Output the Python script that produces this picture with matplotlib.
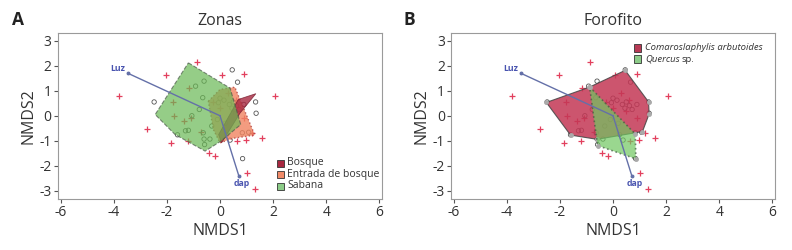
import matplotlib
matplotlib.use("Agg")
import matplotlib.pyplot as plt
from matplotlib.patches import Rectangle

plt.rcParams['font.family'] = ['Open Sans', 'DejaVu Sans']

# ---- data ----
sites_x = [-2.48, -0.92, 0.46, 0.66, 1.34, 1.36, 1.08, 0.84, 0.85, 0.38, -0.60, -0.58, -1.60,
           -0.60, -0.65, -0.78, -1.06, -1.19, -0.63, -0.38, -0.31, -0.06, 0.15, 0.35, 0.50,
           0.62, 0.45, 0.72, 0.90, -0.10, 0.20, -1.30, 0.00, 0.25]
sites_y = [0.55, 1.18, 1.83, 1.34, 0.55, 0.10, -0.66, -0.68, -1.71, -0.97, -0.93, -1.15, -0.76,
           1.38, 0.72, 0.25, 0.00, -0.58, -0.68, -0.93, -0.41, 0.52, 0.62, 0.45, 0.55,
           0.40, 0.30, 0.25, 0.45, -0.15, -0.30, -0.60, 0.70, -0.75]

spp_x = [-3.81, -0.88, -2.04, 0.06, 0.90, 2.08, -2.73, -1.86, -0.40, -0.20, 0.65, 0.98, 1.59,
         1.00, 1.31, 1.20, -1.20, -1.76, -1.73, -1.35, -1.10, -0.72, 0.90, 0.60, -1.15, -0.25,
         0.30, 0.50, 0.00]
spp_y = [0.80, 2.15, 1.63, 1.62, 1.67, 0.78, -0.53, -1.10, -1.50, -1.62, -1.00, -0.95, -0.89,
         -2.30, -2.93, -0.70, -1.00, 0.53, 0.00, -0.20, -0.07, -0.63, -0.10, 0.62, 1.10, 0.55,
         0.90, 0.20, 0.30]

vec_names = ["Luz", "dap"]
vec_x = [-3.46, 0.71]
vec_y = [1.69, -2.40]

# Panel A hulls
zona_names = ["Bosque", "Entrada de bosque", "Sabana"]
bosque_x = [0.69, 1.35, 0.75, 0.06, -0.05]
bosque_y = [0.65, 0.88, 0.10, -1.08, -0.75]
entrada_x = [-0.44, 0.00, 0.56, 1.31, 0.50, 0.00, -0.25]
entrada_y = [0.58, 1.05, 1.14, -0.77, -0.90, -1.08, -0.55]
sabana_x = [-1.19, 0.38, 0.78, 0.05, -0.56, -1.69, -2.44]
sabana_y = [2.11, 1.10, -0.35, -1.00, -1.41, -0.75, 0.05]

# Panel B hulls
foro_names = ["Comaroslaphylis arbutoides", "Quercus", "sp."]
comaro_x = [-2.51, -0.89, 0.46, 1.34, 1.36, 1.11, -0.60, -1.60]
comaro_y = [0.53, 1.14, 1.81, 0.55, 0.07, -0.63, -0.94, -0.77]
quercus_x = [-0.88, 0.84, 0.86, -0.58]
quercus_y = [1.15, -0.73, -1.72, -1.19]

W, H = 792, 250
fig = plt.figure(figsize=(W / 100, H / 100), dpi=100)

def px_axes(l, r, t, b):
    return fig.add_axes([l / W, 1 - b / H, (r - l) / W, (b - t) / H])

axA = px_axes(58, 382, 33, 199)
axB = px_axes(451, 775, 33, 199)

vec_color = "#6470a8"
lab_color = "#4a55b0"
txt = "#333333"

def base(ax):
    ax.set_xlim(-6.1, 6.1)
    ax.set_ylim(-3.32, 3.3)
    ax.set_xticks([-6, -4, -2, 0, 2, 4, 6])
    ax.set_yticks([-3, -2, -1, 0, 1, 2, 3])
    ax.set_xticklabels(["-6", "-4", "-2", "0", "2", "4", "6"])
    ax.set_yticklabels(["-3", "-2", "-1", "0", "1", "2", "3"])
    for s in ax.spines.values():
        s.set_color("#9a9a9a")
        s.set_linewidth(0.8)
    ax.tick_params(direction="out", length=3, width=0.8, color="#555555",
                   labelsize=10, labelcolor=txt, pad=1.5)
    ax.set_xlabel("NMDS1", fontsize=11.5, color=txt, labelpad=2)
    ax.set_ylabel("NMDS2", fontsize=11.5, color=txt, labelpad=2)

def points(ax):
    ax.scatter(spp_x, spp_y, marker="+", s=13, color="#e2405e", linewidths=0.9, zorder=1)
    ax.scatter(sites_x, sites_y, marker="o", s=10, facecolors="none",
               edgecolors="#555555", linewidths=0.6, zorder=1)

def vectors(ax):
    for n, vx, vy in zip(vec_names, vec_x, vec_y):
        ax.plot([0, vx], [0, vy], color=vec_color, lw=1.0, zorder=7)
        ax.plot([vx], [vy], marker="o", ms=1.8, color=vec_color, zorder=7)
    ax.text(vec_x[0] - 0.1, vec_y[0] + 0.02, vec_names[0], fontsize=6.3, color=lab_color,
            fontweight="bold", ha="right", va="bottom", zorder=8)
    ax.text(vec_x[1] + 0.1, vec_y[1] - 0.12, vec_names[1], fontsize=6.3, color=lab_color,
            fontweight="bold", ha="center", va="top", zorder=8)

def legend_box(x, y, color):
    fig.add_artist(Rectangle((x / W, 1 - (y + 3.5) / H), 7 / W, 7 / H, transform=fig.transFigure,
                             facecolor=color, edgecolor="#333333", lw=0.6))

# ---- Panel A ----
base(axA)
points(axA)
axA.fill(entrada_x, entrada_y, facecolor="#f08460", alpha=0.8, edgecolor="#b04040",
         linestyle=":", linewidth=1.0, zorder=2)
axA.fill(bosque_x, bosque_y, facecolor="#a82840", alpha=0.8, edgecolor="#7a1f30",
         linewidth=0.6, zorder=3)
axA.fill(sabana_x, sabana_y, facecolor="#69b854", alpha=0.7, edgecolor="#4a5a4a",
         linestyle="--", linewidth=0.8, zorder=4)
vectors(axA)
legA_cols = ["#a82840", "#f08a68", "#8ccc88"]
for i, (name, col) in enumerate(zip(zona_names, legA_cols)):
    yy = 163 + i * 11.5
    legend_box(277, yy, col)
    fig.text(287 / W, 1 - yy / H, name, fontsize=7.5, color=txt, va="center", ha="left")
axA.set_title("Zonas", fontsize=11.5, color=txt, pad=6)
fig.text(12 / W, 1 - 20 / H, "A", fontsize=12.5, fontweight="bold", color="#222222",
         va="center", ha="left")

# ---- Panel B ----
base(axB)
points(axB)
axB.fill(comaro_x, comaro_y, facecolor="#c43755", alpha=0.85, edgecolor="#444444",
         linewidth=0.8, zorder=2)
axB.plot(comaro_x, comaro_y, linestyle="none", marker="o", ms=2.5, color="#aaaaaa", zorder=3)
axB.fill(quercus_x, quercus_y, facecolor="#70c760", alpha=0.7, edgecolor="#3f5a3f",
         linestyle=":", linewidth=1.2, zorder=4)
axB.plot(quercus_x, quercus_y, linestyle="none", marker="o", ms=2.5, color="#aaaaaa", zorder=4)
vectors(axB)
legend_box(634, 48, "#b83a55")
legend_box(634, 59, "#8ccc88")
fig.text(645 / W, 1 - 48 / H, foro_names[0], fontsize=6.8, style="italic", color=txt,
         va="center", ha="left")
tq = fig.text(645 / W, 1 - 59 / H, foro_names[1], fontsize=6.8, style="italic", color=txt,
              va="center", ha="left")
fig.canvas.draw()
bb = tq.get_window_extent()
fig.text((bb.x1 + 2) / W, 1 - 59 / H, foro_names[2], fontsize=6.8, color=txt,
         va="center", ha="left")
axB.set_title("Forofito", fontsize=11.5, color=txt, pad=6)
fig.text(404 / W, 1 - 20 / H, "B", fontsize=12.5, fontweight="bold", color="#222222",
         va="center", ha="left")

fig.savefig("out.png", dpi=100)
